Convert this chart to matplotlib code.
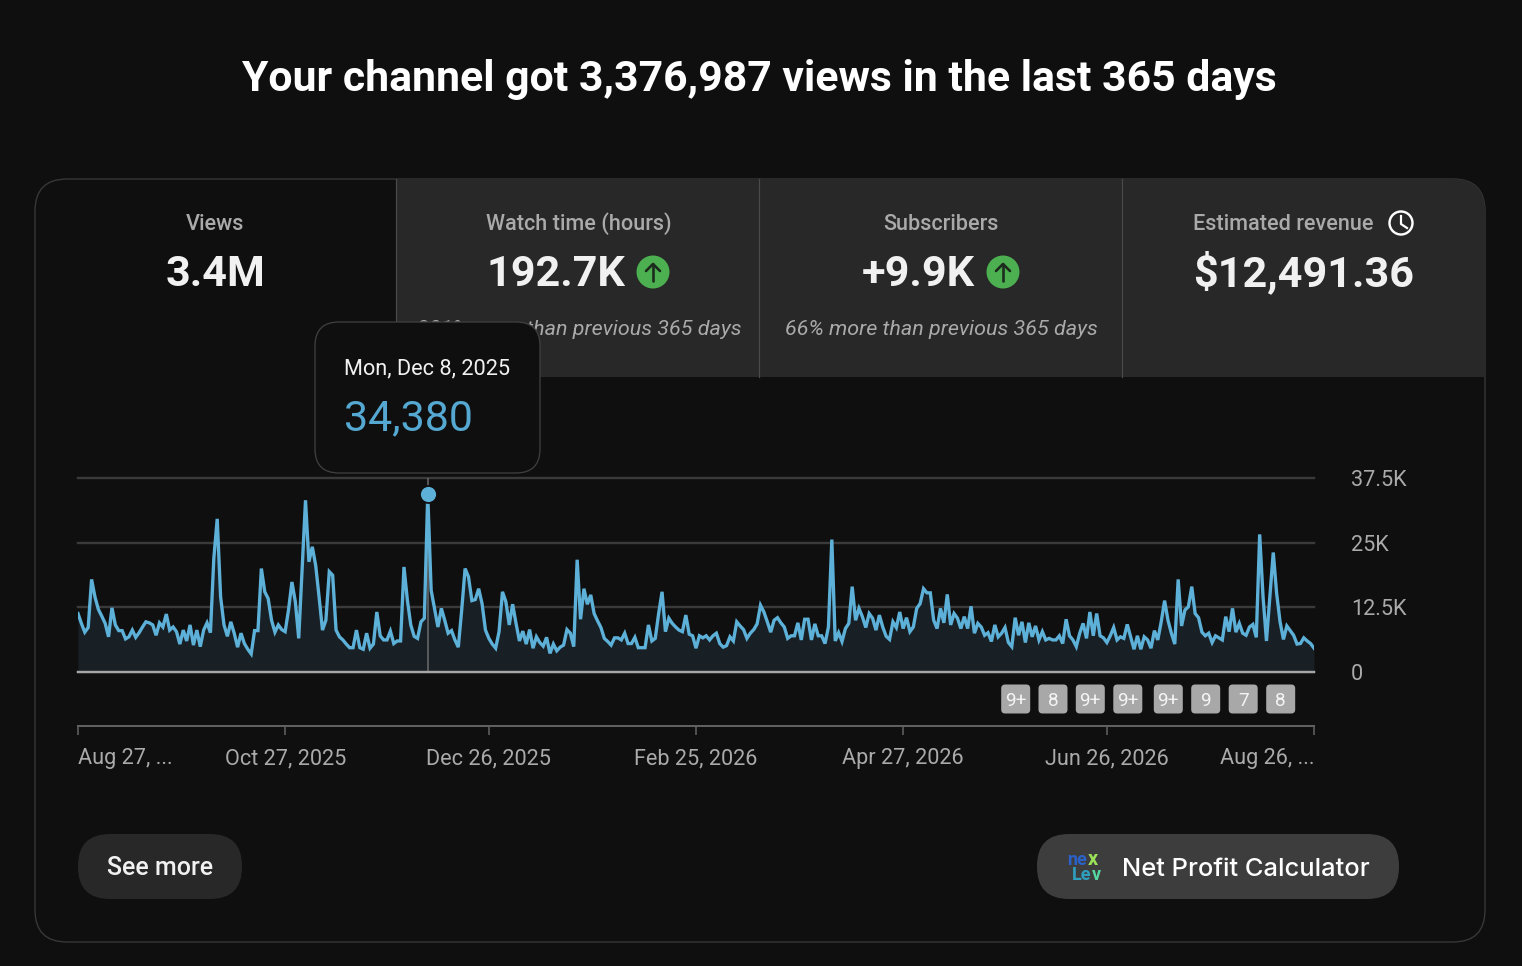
#!/usr/bin/env python3
import numpy as np
import matplotlib
matplotlib.use('Agg')
import matplotlib.pyplot as plt
from matplotlib.patches import Circle, FancyBboxPatch, Rectangle

# daily views, in thousands (Aug 27, 2025 onwards)
views_k = [
    11.3, 9.4, 7.7, 8.6, 17.9, 14.5, 12.1, 10.8, 9.4, 6.8, 12.4, 9.1, 8.0, 8.0, 6.4, 6.8, 8.1, 6.7, 7.6, 8.7,
    9.7, 9.5, 9.1, 7.1, 9.5, 8.7, 11.2, 8.1, 8.7, 7.8, 5.4, 8.1, 6.0, 9.1, 5.2, 8.1, 4.9, 8.1, 9.5, 7.6,
    22.0, 29.6, 14.5, 9.1, 6.9, 9.7, 7.5, 4.8, 7.5, 5.5, 4.4, 3.5, 8.0, 8.0, 20.0, 15.5, 14.2, 10.0, 7.7, 9.1,
    8.2, 7.8, 12.0, 17.4, 13.6, 6.5, 20.0, 33.2, 21.3, 24.2, 20.6, 14.5, 8.1, 10.0, 19.4, 18.7, 8.1, 6.8, 6.2, 5.4,
    4.7, 4.7, 8.1, 4.7, 4.4, 7.5, 4.6, 5.4, 11.6, 7.0, 6.2, 6.2, 7.9, 5.5, 6.0, 6.0, 20.3, 13.9, 9.1, 6.9,
    6.5, 9.7, 10.4, 34.38, 15.8, 12.3, 8.7, 12.3, 10.0, 7.5, 8.0, 6.2, 4.8, 12.0, 20.0, 18.4, 13.8, 14.0, 16.1, 13.2,
    8.1, 6.5, 5.4, 4.6, 7.8, 15.5, 13.6, 9.1, 13.1, 9.4, 6.0, 7.9, 5.4, 8.2, 4.6, 6.8, 5.7, 5.0, 6.7, 3.6,
    5.4, 4.1, 4.8, 5.2, 8.2, 7.5, 4.9, 21.7, 10.2, 16.1, 13.1, 14.9, 11.3, 9.9, 8.6, 6.5, 5.9, 5.2, 6.6, 6.6,
    6.2, 7.5, 5.5, 5.5, 6.7, 4.7, 4.7, 4.7, 9.1, 6.0, 6.5, 11.3, 15.5, 7.8, 10.4, 9.4, 8.7, 8.1, 7.8, 11.0,
    7.3, 7.0, 4.6, 7.0, 6.6, 7.0, 6.2, 7.0, 7.5, 5.5, 4.8, 5.1, 6.8, 6.0, 9.7, 8.9, 8.2, 6.5, 7.5, 8.2,
    9.3, 12.9, 11.6, 9.7, 7.7, 10.0, 10.5, 9.5, 8.7, 6.5, 7.0, 7.0, 9.5, 6.2, 10.2, 10.2, 6.2, 9.3, 7.0, 7.0,
    5.5, 8.7, 25.6, 6.0, 7.6, 5.9, 8.4, 9.4, 16.5, 10.0, 12.3, 10.7, 8.6, 11.3, 10.4, 8.1, 11.0, 8.7, 6.9, 6.3,
    9.7, 8.6, 11.6, 8.4, 10.5, 7.8, 8.7, 12.3, 13.2, 16.1, 15.3, 15.3, 10.0, 8.4, 12.3, 9.5, 15.0, 9.1, 11.3, 10.4,
    8.4, 10.7, 8.4, 12.7, 7.5, 9.4, 8.7, 7.1, 7.6, 5.9, 9.1, 6.8, 7.5, 8.6, 5.7, 4.9, 10.5, 7.1, 9.7, 5.7,
    9.5, 6.8, 8.9, 6.2, 7.8, 6.2, 6.5, 6.2, 6.2, 7.0, 5.5, 10.2, 7.0, 6.2, 4.9, 7.5, 9.4, 6.5, 11.6, 7.0,
    11.3, 7.0, 6.6, 5.7, 7.0, 8.6, 6.2, 6.8, 6.5, 9.2, 6.8, 4.4, 7.0, 4.4, 6.8, 6.2, 4.6, 8.0, 6.2, 9.7,
    13.8, 10.0, 7.5, 5.4, 17.9, 8.9, 12.0, 12.6, 16.5, 11.3, 10.5, 7.7, 7.0, 7.5, 5.7, 7.0, 6.6, 6.2, 10.7, 7.8,
    12.3, 7.7, 9.4, 7.5, 7.1, 8.7, 9.2, 6.7, 26.6, 14.5, 6.0, 14.5, 23.1, 15.2, 9.7, 6.3, 8.9, 8.0, 7.1, 5.4,
    5.5, 6.6, 6.0, 5.5, 4.6,
]
y_ticks_k = [0, 12.5, 25, 37.5]
y_tick_labels = ['0', '12.5K', '25K', '37.5K']
x_tick_days = [0, 61, 121, 182, 243, 303, 364]
x_tick_labels = ['Aug 27, ...', 'Oct 27, 2025', 'Dec 26, 2025', 'Feb 25, 2026', 'Apr 27, 2026', 'Jun 26, 2026', 'Aug 26, ...']
hover_day = 103
badge_labels = ['9+', '8', '9+', '9+', '9+', '9', '7', '8']
badge_x = [1015.7, 1053, 1090.3, 1127.8, 1168.3, 1205.7, 1243.2, 1280.7]

W, H = 1522, 966
BG = '#0f0f0f'
CARD = '#282828'
BLUE = '#5db1d9'
GREY = '#aaaaaa'
PX = 0.72  # 1 px in points at dpi=100

plt.rcParams['font.family'] = ['Roboto', 'DejaVu Sans']

fig = plt.figure(figsize=(W / 100, H / 100), dpi=100, facecolor=BG)

# page layer in pixel coords
bg = fig.add_axes([0, 0, 1, 1], zorder=0)
bg.set_xlim(0, W)
bg.set_ylim(H, 0)
bg.axis('off')

def text(ax, x, y, s, size, color='white', ha='center', weight='normal', style='normal', zorder=5, **kw):
    # y is the baseline
    return ax.text(x, y, s, fontsize=size * PX, color=color, ha=ha, va='baseline',
                   fontweight=weight, fontstyle=style, zorder=zorder, **kw)

def pill(ax, x0, y0, x1, y1, r, face, edge='none', lw=0, zorder=2):
    patch = FancyBboxPatch((x0 + r, y0 + r), x1 - x0 - 2 * r, y1 - y0 - 2 * r,
                           boxstyle=f'round,pad={r},rounding_size={r}',
                           fc=face, ec=edge, lw=lw, zorder=zorder)
    ax.add_patch(patch)
    return patch

def up_badge(ax, x, y):
    ax.add_patch(Circle((x, y), 16.5, fc='#4caf50', ec='none', zorder=4))
    ax.plot([x, x], [y + 9, y - 8], color='#1c2b1d', lw=2.6 * PX, zorder=5, solid_capstyle='round')
    ax.plot([x - 7, x, x + 7], [y - 1, y - 8, y - 1], color='#1c2b1d', lw=2.6 * PX, zorder=5, solid_capstyle='round')

text(bg, 759.5, 91, 'Your channel got 3,376,987 views in the last 365 days', 42.8, weight='bold')

# panel with header tiles
panel = pill(bg, 35, 179, 1485, 942, 32, BG, edge='#3a3a3a', lw=1.3 * PX, zorder=1)
tiles = Rectangle((397, 179), 1088, 198, fc=CARD, ec='none', zorder=1.5)
bg.add_patch(tiles)
tiles.set_clip_path(panel)
for x in [396, 759, 1122]:
    bg.plot([x, x], [179, 377], color='#4a4a4a', lw=1.2 * PX, zorder=1.6)

text(bg, 215.5, 230, 'Views', 21.7, GREY, weight='medium')
text(bg, 215.5, 286, '3.4M', 43.2, '#f1f1f1', weight='bold')
text(bg, 578.5, 230, 'Watch time (hours)', 21.7, GREY, weight='medium')
text(bg, 556, 286, '192.7K', 43.2, '#f1f1f1', weight='bold')
up_badge(bg, 653, 272)
text(bg, 579, 335, '301% more than previous 365 days', 21.5, GREY, style='italic')
text(bg, 941, 230, 'Subscribers', 21.7, GREY, weight='medium')
text(bg, 918.5, 286, '+9.9K', 43.2, '#f1f1f1', weight='bold')
up_badge(bg, 1003, 272)
text(bg, 941, 335, '66% more than previous 365 days', 21.5, GREY, style='italic')
text(bg, 1283.5, 230, 'Estimated revenue', 21.7, GREY, weight='medium')
bg.add_patch(Circle((1401, 223), 11.5, fc='none', ec='white', lw=2.4 * PX, zorder=5))
bg.plot([1401, 1401, 1407], [216, 224, 228], color='white', lw=2.2 * PX, zorder=5)
text(bg, 1304, 286, '$12,491.36', 43.2, '#f1f1f1', weight='bold')

# buttons
pill(bg, 78, 834, 242, 899, 32, CARD)
text(bg, 160, 875, 'See more', 25, '#f1f1f1', weight='medium')
pill(bg, 1037, 834, 1399, 899, 32, '#3d3d3d')
text(bg, 1246, 876, 'Net Profit Calculator', 25.5, 'white', weight='medium', family=['Inter', 'DejaVu Sans'])
text(bg, 1067, 865, 'ne', 18, '#2a62c8', ha='left', weight='bold')
text(bg, 1088, 865, 'x', 20, '#9be25a', ha='left', weight='bold')
text(bg, 1072, 880, 'Le', 18, '#2f9fc0', ha='left', weight='bold')
text(bg, 1092, 880, 'v', 18, '#56d6a0', ha='left', weight='bold')

# tooltip
pill(bg, 315, 322, 540, 473, 24, BG, edge='#3f3f3f', lw=1.3 * PX, zorder=8)
text(bg, 344.5, 374, 'Mon, Dec 8, 2025', 21.8, '#f1f1f1', ha='left', zorder=9)
text(bg, 344.5, 430, '34,380', 43, '#55a8d2', ha='left', zorder=9)

# badges
for label, x in zip(badge_labels, badge_x):
    pill(bg, x - 14.5, 684.5, x + 14.5, 713.5, 4, '#a8a8a8', zorder=3)
    text(bg, x, 706, label, 19, '#f4f4f4')

# chart
ax = fig.add_axes([78 / W, (H - 672) / H, (1314 - 78) / W, (672 - 478) / H], zorder=2)
ax.patch.set_alpha(0)
days = np.arange(len(views_k))
ax.set_xlim(0, days[-1])
ax.set_ylim(0, 37.5)
ax.set_yticks(y_ticks_k)
ax.set_yticklabels(y_tick_labels)
ax.yaxis.tick_right()
ax.tick_params(axis='y', length=0, pad=37 * PX, labelsize=21.7 * PX, labelcolor=GREY)
ax.grid(axis='y', color='#3a3a3a', lw=2.4 * PX, zorder=1, clip_on=False)
ax.set_axisbelow(True)
ax.fill_between(days, views_k, color='#182025', lw=0, zorder=1.5)
ax.axhline(0, color='#a6a6a6', lw=2.4 * PX, zorder=3, clip_on=False)
ax.axvline(hover_day, color='#666666', lw=1.6 * PX, zorder=2)
ax.plot(days, views_k, color=BLUE, lw=3.3 * PX, zorder=4, solid_joinstyle='miter')
ax.plot([hover_day], [views_k[hover_day]], 'o', ms=17 * PX, mfc=BLUE, mec=BG, mew=1.8 * PX, zorder=5, clip_on=False)

for side in ['left', 'right', 'top']:
    ax.spines[side].set_visible(False)
ax.spines['bottom'].set_position(('outward', 54 * PX))
ax.spines['bottom'].set_color('#606060')
ax.spines['bottom'].set_linewidth(2 * PX)
ax.set_xticks(x_tick_days)
ax.set_xticklabels(x_tick_labels)
ax.tick_params(axis='x', direction='out', length=9 * PX, width=1.6 * PX, color='#606060',
               pad=13 * PX, labelsize=21.6 * PX, labelcolor=GREY)
xlabels = ax.get_xticklabels()
xlabels[0].set_ha('left')
xlabels[-1].set_ha('right')

fig.savefig('out.png', dpi=100, facecolor=BG)
